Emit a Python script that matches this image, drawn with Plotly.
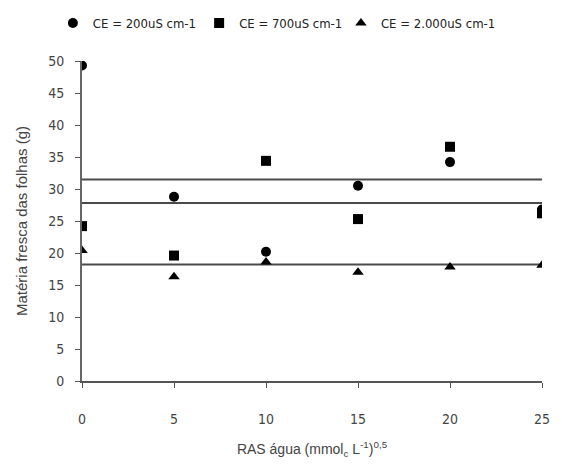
import plotly.graph_objects as go

ras = [0, 5, 10, 15, 20, 25]
ce200 = [49.3, 28.8, 20.2, 30.5, 34.2, 26.8]
ce700 = [24.2, 19.6, 34.4, 25.3, 36.6, 26.2]
ce2000 = [20.4, 16.3, 18.6, 17.0, 17.8, 18.1]
names = ["CE = 200uS cm-1", "CE = 700uS cm-1", "CE = 2.000uS cm-1"]
symbols = ["circle", "square", "triangle-up"]
mean_lines = [31.5, 27.8, 18.2]
line_x = [0, 25]

legend_ids = ["legend", "legend2", "legend3"]
legend_x = [0.081, 0.345, 0.601]

fig = go.Figure()
for ml in mean_lines:
    fig.add_trace(go.Scatter(x=line_x, y=[ml, ml], mode="lines",
                             line=dict(color="#4a4a4a", width=2),
                             showlegend=False, hoverinfo="skip"))
for name, vals, sym, lg in zip(names, [ce200, ce700, ce2000], symbols, legend_ids):
    fig.add_trace(go.Scatter(x=ras, y=vals, mode="markers", name=name, legend=lg,
                             marker=dict(symbol=sym, size=10, color="black")))

narrow = "Liberation Sans Narrow, Arial Narrow, DejaVu Sans Condensed, sans-serif"
leg_common = dict(orientation="h", xanchor="left", xref="container", y=1.0,
                  yanchor="top", yref="container", itemwidth=30,
                  font=dict(family=narrow, size=13, color="#222"),
                  bgcolor="rgba(0,0,0,0)")
fig.update_layout(
    width=554, height=463,
    margin=dict(l=74, r=20, t=53, b=90),
    plot_bgcolor="white", paper_bgcolor="white",
    legend=dict(x=legend_x[0], **leg_common),
    legend2=dict(x=legend_x[1], **leg_common),
    legend3=dict(x=legend_x[2], **leg_common),
    xaxis=dict(range=[0, 25], tickvals=ras, showline=True, linecolor="#555", linewidth=2,
               ticks="outside", ticklen=5, tickcolor="#555", showgrid=False, zeroline=False,
               tickfont=dict(family=narrow, size=14, color="#444"), ticklabelstandoff=19,
               title=dict(text="RAS água (mmol<sub>c</sub> L<sup>-1</sup>)<sup>0,5</sup>",
                          font=dict(family="Liberation Sans, Arial, sans-serif", size=14, color="#444"),
                          standoff=18)),
    yaxis=dict(range=[0, 50], tickvals=[0, 5, 10, 15, 20, 25, 30, 35, 40, 45, 50],
               showline=True, linecolor="#666", linewidth=2,
               ticks="outside", ticklen=5, tickcolor="#555", showgrid=False, zeroline=False,
               tickfont=dict(family=narrow, size=14, color="#444"), ticklabelstandoff=8,
               title=dict(text="Matéria fresca das folhas (g)",
                          font=dict(family="Liberation Sans, Arial, sans-serif", size=15, color="#444"),
                          standoff=17)),
)
fig.write_html("out.html")
